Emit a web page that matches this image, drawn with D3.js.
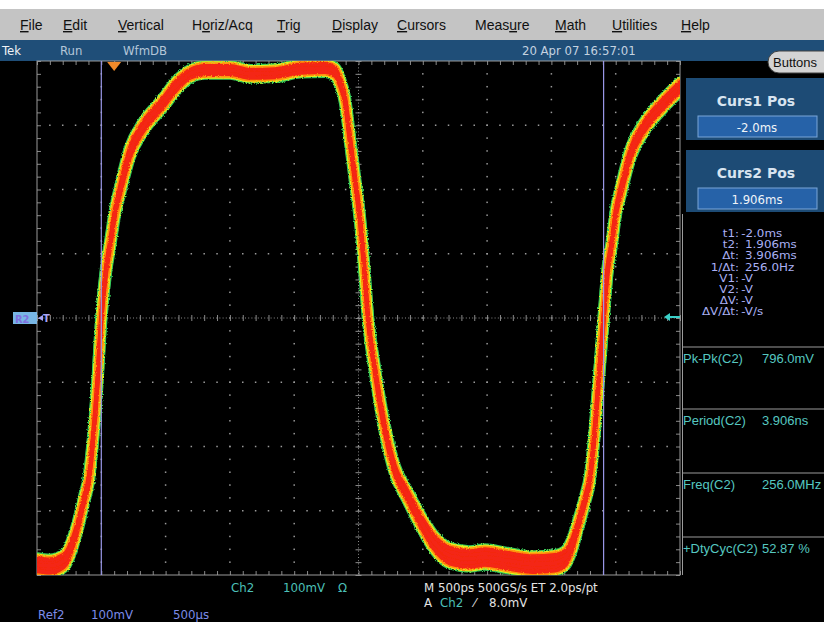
<!DOCTYPE html>
<html>
<head>
<meta charset="utf-8">
<script src="https://cdn.jsdelivr.net/npm/d3@7"></script>
<style>
  html, body { margin: 0; padding: 0; background: #000; }
  svg { display: block; }
  text { white-space: pre; }
</style>
</head>
<body>
<svg id="scope" width="824" height="622"></svg>
<script>
// ---- Reference waveform Ref2 (time in ms, level in mV) ----
const times = [-2.5, -2.4, -2.337, -2.274, -2.228, -2.181, -2.135, -2.096, -2.065, -2.034, -2.0,
  -1.963, -1.932, -1.893, -1.854, -1.777, -1.676, -1.52, -1.411, -1.31, -1.194, -0.999, -0.844,
  -0.65, -0.455, -0.26, -0.182, -0.144, -0.105, -0.066, -0.027, 0.012, 0.043, 0.074, 0.128,
  0.206, 0.284, 0.377, 0.478, 0.579, 0.712, 0.867, 0.984, 1.139, 1.357, 1.528, 1.606, 1.66,
  1.707, 1.761, 1.8, 1.831, 1.862, 1.906, 1.937, 1.968, 2.002, 2.041, 2.119, 2.22, 2.376, 2.5];
const volts = [-384, -386, -383, -374, -353, -322, -283, -249, -190, -112, 0,
  75, 114, 165, 199, 258, 297, 335, 363, 380, 386, 386, 380,
  381, 388, 389, 383, 367, 339, 277, 215, 153, 82, 0, -81,
  -174, -237, -275, -314, -347, -370, -375, -372, -377, -383, -381, -374, -353,
  -322, -283, -249, -190, -112, 0, 75, 114, 165, 199, 258, 297, 335, 360];
// half-height of the persistence band around the trace, mV
const spread = [10, 10, 10, 9, 7, 6, 5, 5, 5, 5, 5,
  5, 5, 5, 6, 7, 7, 7, 7, 6, 6, 6, 6,
  6, 6, 6, 6, 5, 5, 5, 5, 5, 5, 5, 5,
  6, 6, 7, 8, 10, 12, 12, 12, 12, 12, 12, 11, 8,
  6, 5, 5, 5, 5, 5, 5, 5, 5, 6, 7, 7, 7, 7];

// ---- Screen texts ----
const menuItems = ["File", "Edit", "Vertical", "Horiz/Acq", "Trig", "Display", "Cursors", "Measure", "Math", "Utilities", "Help"];
const menuKeys  = [0, 0, 0, 1, 0, 0, 0, 4, 0, 0, 0];
const statusLeft = ["Tek", "Run", "WfmDB"];
const statusDate = "20 Apr 07 16:57:01";
const cursorTitles = ["Curs1 Pos", "Curs2 Pos"];
const cursorValues = ["-2.0ms", "1.906ms"];
const cursorTimes = [-2.0, 1.906];
const readoutLabels = ["t1:", "t2:", "Δt:", "1/Δt:", "V1:", "V2:", "ΔV:", "ΔV/Δt:"];
const readoutValues = ["-2.0ms", " 1.906ms", " 3.906ms", " 256.0Hz", "-V", "-V", "-V", "-V/s"];
const measLabels = ["Pk-Pk(C2)", "Period(C2)", "Freq(C2)", "+DtyCyc(C2)"];
const measValues = ["796.0mV", "3.906ns", "256.0MHz", "52.87 %"];
const chanInfo = ["Ch2", "100mV", "Ω"];
const refInfo = ["Ref2", "100mV", "500µs"];
const timebase = "M 500ps 500GS/s ET 2.0ps/pt";
const trigInfo = ["A", "Ch2", "⁄", "8.0mV"];

// ---- Layout ----
const G = { left: 37, right: 680, top: 61, bottom: 575 };
const svg = d3.select("#scope");
const x = d3.scaleLinear().domain([-2.5, 2.5]).range([G.left, G.right]);
const y = d3.scaleLinear().domain([-400, 400]).range([G.bottom, G.top]);
const SANS = "'DejaVu Sans', Verdana, sans-serif";
const ARIAL = "'Liberation Sans', Arial, sans-serif";
const COND = "'DejaVu Sans Condensed', 'Liberation Sans Narrow', sans-serif";

svg.append("rect").attr("width", 824).attr("height", 622).attr("fill", "#000");

// Menu bar
svg.append("rect").attr("x", 0).attr("y", 0).attr("width", 824).attr("height", 9).attr("fill", "#ffffff");
svg.append("rect").attr("x", 0).attr("y", 9).attr("width", 824).attr("height", 31).attr("fill", "#c4c4c4");
const menuX = [20, 63, 118, 192, 277, 332, 397, 475, 555, 612, 681];
const menu = svg.append("g").attr("font-family", ARIAL).attr("font-size", 14).attr("fill", "#111");
menuItems.forEach((m, i) => {
  const t = menu.append("text").attr("x", menuX[i]).attr("y", 30);
  const k = menuKeys[i];
  if (k > 0) t.append("tspan").text(m.slice(0, k));
  t.append("tspan").attr("text-decoration", "underline").text(m[k]);
  t.append("tspan").text(m.slice(k + 1));
});

// Status bar
svg.append("rect").attr("x", 0).attr("y", 40).attr("width", 824).attr("height", 21).attr("fill", "#1f4e78");
const status = svg.append("g").attr("font-family", COND).attr("font-stretch", "condensed").attr("font-size", 13);
const statusX = [2, 60, 123];
statusLeft.forEach((s, i) => status.append("text").attr("x", statusX[i]).attr("y", 55)
  .attr("fill", i === 0 ? "#eef2f6" : "#b4c6d8").text(s));
status.append("text").attr("x", 522).attr("y", 55).attr("fill", "#c4d2e0").text(statusDate);

// Buttons pill
svg.append("rect").attr("x", 768).attr("y", 51).attr("width", 70).attr("height", 22).attr("rx", 11)
  .attr("fill", "#d4d4d4").attr("stroke", "#404040");
svg.append("text").attr("x", 773).attr("y", 67).attr("font-family", ARIAL)
  .attr("font-size", 13).attr("fill", "#111").text("Buttons");

// ---- Graticule ----
const grat = svg.append("g").attr("stroke", "#8a8a8a").attr("fill", "#9a9a9a");
const majorT = d3.range(-2.5, 2.5001, 0.5);
const majorV = d3.range(-400, 400.1, 100);
const minorT = d3.range(-2.5, 2.5001, 0.1);
const minorV = d3.range(-400, 400.1, 20);
// dots along the major lines
majorT.slice(1, -1).forEach(t => {
  if (Math.abs(t) < 1e-9) return;
  grat.selectAll(null).data(minorV.slice(1, -1)).join("rect")
    .attr("x", x(t) - 0.75).attr("y", d => y(d) - 0.75).attr("width", 1.5).attr("height", 1.5).attr("stroke", "none");
});
majorV.slice(1, -1).forEach(v => {
  if (Math.abs(v) < 1e-9) return;
  grat.selectAll(null).data(minorT.slice(1, -1)).join("rect")
    .attr("x", d => x(d) - 0.75).attr("y", y(v) - 0.75).attr("width", 1.5).attr("height", 1.5).attr("stroke", "none");
});
// center cross with fine dashes and minor ticks
grat.append("line").attr("x1", G.left).attr("x2", G.right).attr("y1", y(0)).attr("y2", y(0))
  .attr("stroke-dasharray", "1,2.2").attr("stroke-width", 1);
grat.append("line").attr("x1", x(0)).attr("x2", x(0)).attr("y1", G.top).attr("y2", G.bottom)
  .attr("stroke-dasharray", "1,2.2").attr("stroke-width", 1);
const tickAxis = (gen, tx, ty, size) => {
  const g = grat.append("g").attr("transform", `translate(${tx},${ty})`)
    .call(gen.tickSize(size).tickSizeOuter(0).tickFormat(""));
  g.select(".domain").remove();
  g.selectAll("line").attr("stroke", "#8a8a8a");
  return g;
};
tickAxis(d3.axisBottom(x).tickValues(minorT), 0, y(0) - 3, 6);
tickAxis(d3.axisRight(y).tickValues(minorV), x(0) - 3, 0, 6);
// frame edge ticks
tickAxis(d3.axisTop(x).tickValues(minorT), 0, G.bottom, 4);
tickAxis(d3.axisBottom(x).tickValues(minorT), 0, G.top, 4);
tickAxis(d3.axisRight(y).tickValues(minorV), G.left, 0, 4);
tickAxis(d3.axisLeft(y).tickValues(minorV), G.right, 0, 4);
grat.append("rect").attr("x", G.left).attr("y", G.top).attr("width", G.right - G.left)
  .attr("height", G.bottom - G.top).attr("fill", "none").attr("stroke", "#9a9a9a");

// ---- Persistence trace ----
const defs = svg.append("defs");
defs.append("clipPath").attr("id", "gclip").append("rect")
  .attr("x", G.left).attr("y", G.top).attr("width", G.right - G.left).attr("height", G.bottom - G.top);
const f = defs.append("filter").attr("id", "grain").attr("x", "-5%").attr("y", "-5%").attr("width", "110%").attr("height", "110%");
f.append("feTurbulence").attr("type", "fractalNoise").attr("baseFrequency", 0.85).attr("numOctaves", 1).attr("seed", 3).attr("result", "n");
f.append("feDisplacementMap").attr("in", "SourceGraphic").attr("in2", "n").attr("scale", 3.2)
  .attr("xChannelSelector", "R").attr("yChannelSelector", "G");

const pts = times.map((t, i) => ({ t, v: volts[i], s: spread[i] }));
const layers = [
  { color: "#36c85a", w: 12 },
  { color: "#e2f01e", w: 9.8 },
  { color: "#ff9410", w: 7.6 },
  { color: "#f42612", w: 4.2 }
];
const area = d3.area().curve(d3.curveMonotoneX)
  .x(d => x(d.t)).y0(d => y(d.v - d.s)).y1(d => y(d.v + d.s));
const line = d3.line().curve(d3.curveMonotoneX).x(d => x(d.t)).y(d => y(d.v));
const trace = svg.append("g").attr("clip-path", "url(#gclip)").append("g").attr("filter", "url(#grain)");
layers.forEach(L => {
  trace.append("path").datum(pts).attr("d", area).attr("fill", L.color)
    .attr("stroke", L.color).attr("stroke-width", L.w).attr("stroke-linejoin", "round");
  trace.append("path").datum(pts).attr("d", line).attr("fill", "none")
    .attr("stroke", L.color).attr("stroke-width", L.w).attr("stroke-linejoin", "round");
});

// ---- Cursors ----
svg.selectAll(".cur").data(cursorTimes).join("line").attr("class", "cur")
  .attr("x1", d => x(d)).attr("x2", d => x(d)).attr("y1", G.top).attr("y2", G.bottom)
  .attr("stroke", "#9a98e8").attr("stroke-width", 1.2);

// trigger position marker
svg.append("path").attr("d", `M${x(-1.9) - 7},${G.top + 1} L${x(-1.9) + 7},${G.top + 1} L${x(-1.9)},${G.top + 10}Z`)
  .attr("fill", "#f08a2a");

// reference marker R2 at left
svg.append("rect").attr("x", 13).attr("y", y(0) - 6).attr("width", 24).attr("height", 12).attr("fill", "#78b6e4");
svg.append("text").attr("x", 15).attr("y", y(0) + 4.5).attr("font-family", COND)
  .attr("font-size", 11).attr("font-weight", "bold").attr("fill", "#8070e0").text("R2");
svg.append("path").attr("d", `M${G.left + 1},${y(0)} l5,-3 v6Z`).attr("fill", "#a8a4f4");
svg.append("text").attr("x", G.left + 6).attr("y", y(0) + 4).attr("font-family", SANS)
  .attr("font-size", 10).attr("font-weight", "bold").attr("fill", "#a8a4f4").text("T");
// trigger level arrow at right
svg.append("path").attr("d", `M${G.right - 16},${y(0) - 1} l6,-4 v3 h10 v2 h-10 v3Z`).attr("fill", "#3ad0c8");

// ---- Right panel ----
const panel = svg.append("g");
const panelY = [78, 150];
cursorTitles.forEach((t, i) => {
  const py = panelY[i];
  panel.append("rect").attr("x", 686).attr("y", py).attr("width", 140).attr("height", 62).attr("fill", "#1d4b75");
  panel.append("text").attr("x", 756).attr("y", py + 28).attr("text-anchor", "middle")
    .attr("font-family", SANS).attr("font-weight", "bold").attr("font-size", 14)
    .attr("fill", "#d8e4f0").text(t);
  panel.append("rect").attr("x", 698).attr("y", py + 38).attr("width", 119).attr("height", 21)
    .attr("fill", "#2662a8").attr("stroke", "#7aa6d8");
  panel.append("text").attr("x", 757).attr("y", py + 53.5).attr("text-anchor", "middle")
    .attr("font-family", COND).attr("font-stretch", "condensed").attr("font-size", 13)
    .attr("fill", "#f0f4f8").text(cursorValues[i]);
});
panel.append("line").attr("x1", 682.5).attr("x2", 682.5).attr("y1", 214).attr("y2", 575).attr("stroke", "#9a9a9a");

// cursor readouts: compact block, widened horizontally, labels right-aligned on the colon
const ro = panel.append("g").attr("transform", "translate(739,0) scale(1.24,1)")
  .attr("font-family", SANS).attr("font-size", 9.6).attr("fill", "#aab0f4");
readoutLabels.forEach((l, i) => {
  const ly = 237 + i * 11.2;
  ro.append("text").attr("x", 0).attr("y", ly).attr("text-anchor", "end").text(l);
  ro.append("text").attr("x", 1.8).attr("y", ly).text(readoutValues[i]);
});

const measY = [347, 409, 473, 537];
const ms = panel.append("g").attr("font-family", ARIAL).attr("font-size", 13).attr("fill", "#56c8c0");
measLabels.forEach((l, i) => {
  ms.append("line").attr("x1", 682).attr("x2", 824).attr("y1", measY[i]).attr("y2", measY[i]).attr("stroke", "#9a9a9a");
  ms.append("text").attr("x", 683).attr("y", measY[i] + 15.5).text(l);
  ms.append("text").attr("x", 762).attr("y", measY[i] + 15.5).text(measValues[i]);
});

// ---- Bottom readouts ----
const bot = svg.append("g").attr("font-family", SANS).attr("font-size", 11.8);
const chanX = [231, 283, 338];
chanInfo.forEach((s, i) => bot.append("text").attr("x", chanX[i]).attr("y", 592).attr("fill", "#4cc0b8").text(s));
const refX = [38, 91, 173];
refInfo.forEach((s, i) => bot.append("text").attr("x", refX[i]).attr("y", 619).attr("fill", "#7c8ce8").text(s));
bot.append("text").attr("x", 424).attr("y", 592).attr("fill", "#e4e4e4").text(timebase);
const trigX = [424, 440, 474, 489];
trigInfo.forEach((s, i) => bot.append("text").attr("x", trigX[i]).attr("y", 607)
  .attr("fill", i === 1 ? "#4cc0b8" : "#e4e4e4").text(s));
</script>
</body>
</html>
